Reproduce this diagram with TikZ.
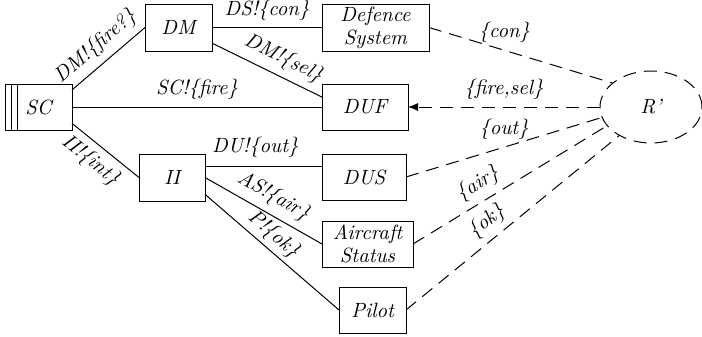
\documentclass[tikz,border=0pt]{standalone}
\usetikzlibrary{shapes.geometric}
\usetikzlibrary{arrows.meta}
\usetikzlibrary{positioning}

\begin{document}
\begin{tikzpicture}[x=0.5pt, y=-0.5pt, line width=0.5pt,
    every node/.style={font=\itshape\fontsize{10.3}{11.5}\selectfont},
    proc/.style={draw, rectangle, align=center, inner sep=1pt, outer sep=0pt, minimum height=23pt},
    chan/.style={dash pattern=on 6.5pt off 4pt}]
  \useasboundingbox (0,0) rectangle (702,337);

  \node[proc, minimum width=33.5pt] (SC) at (38.5,107) {SC};
  \node[proc, minimum width=33.5pt, minimum height=23.5pt] (DM) at (178.5,27.5) {DM};
  \node[proc, minimum width=53.5pt, minimum height=23.5pt, anchor=west] (DS) at (322,27.5) {Defence\\System};
  \node[proc, minimum width=43pt, anchor=west] (DUF) at (322,107) {DUF};
  \node[proc, minimum width=33pt, minimum height=23.5pt] (II) at (172,177.5) {II};
  \node[proc, minimum width=42pt, anchor=west] (DUS) at (322,177) {DUS};
  \node[proc, minimum width=45.5pt, anchor=west] (AS) at (322,244) {Aircraft\\Status};
  \node[proc, minimum width=33.5pt] (P) at (372.5,310) {Pilot};
  \node[ellipse, draw, chan, inner sep=0pt, outer sep=0pt,
        minimum width=51pt, minimum height=36pt] (R) at (651,107) {R'};

  % stacked bars on the left of SC
  \draw ([xshift=3pt]SC.north west) -- ([xshift=3pt]SC.south west);
  \draw ([xshift=6pt]SC.north west) -- ([xshift=6pt]SC.south west);

  \draw
  (SC.27) edge node[sloped, above, pos=0.48] {DM!\{fire?\}} (DM.west)
  (DM.east) edge node[above] {DS!\{con\}} (DS.west)
  (DM.-25) edge node[sloped, above, pos=0.58] {DM!\{sel\}} (DUF.167)
  (SC.east) edge node[above] {SC!\{fire\}} (DUF.west)
  (SC.-26) edge node[sloped, below, pos=0.44] {II!\{int\}} (II.west)
  (II.18) edge node[above=1pt, pos=0.43] {DU!\{out\}} (II.18 -| DUS.west)
  (II.east) edge node[sloped, above=0pt, pos=0.51] {AS!\{air\}} (AS.west)
  (II.-27) edge node[sloped, above=-1.5pt, pos=0.44] {P!\{ok\}} (P.west);

  \draw[chan]
  (DS.east) edge node[above, pos=0.41] {\{con\}} (R.148)
  (R.west) edge[-{Latex[length=5pt,width=4pt]}] node[above] {\{fire,sel\}} (DUF.east)
  (DUS.east) edge node[above, pos=0.5] {\{out\}} (R.192)
  (AS.east) edge node[sloped, above, pos=0.38] {\{air\}} (R.203)
  (P.east) edge node[sloped, above, pos=0.43] {\{ok\}} (R.222);
\end{tikzpicture}
\end{document}
